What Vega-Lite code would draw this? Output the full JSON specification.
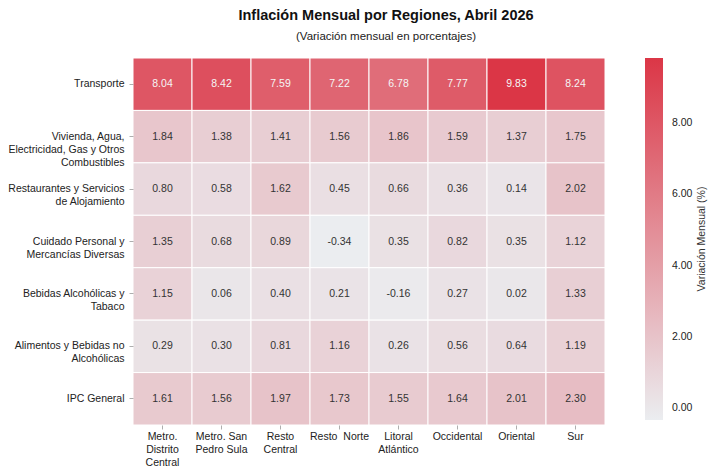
{
  "$schema": "https://vega.github.io/schema/vega-lite/v6.json",
  "autosize": "none",
  "width": 472,
  "height": 367,
  "padding": {"left": 133, "top": 58, "right": 110, "bottom": 43},
  "background": "white",
  "title": {
    "text": "Inflación Mensual por Regiones, Abril 2026",
    "subtitle": "(Variación mensual en porcentajes)",
    "font": "Liberation Sans",
    "fontSize": 14.5,
    "fontWeight": "bold",
    "color": "#111",
    "subtitleFont": "Liberation Sans",
    "subtitleFontSize": 11.5,
    "subtitleColor": "#222",
    "subtitlePadding": 8,
    "anchor": "middle",
    "dx": 17,
    "offset": 14
  },
  "config": {
    "view": {"stroke": null},
    "font": "Liberation Sans"
  },
  "data": {
    "values": [
      {"cat": "Transporte", "reg": "Metro.\nDistrito\nCentral", "v": 8.04},
      {"cat": "Transporte", "reg": "Metro. San\nPedro Sula", "v": 8.42},
      {"cat": "Transporte", "reg": "Resto\nCentral", "v": 7.59},
      {"cat": "Transporte", "reg": "Resto  Norte", "v": 7.22},
      {"cat": "Transporte", "reg": "Litoral\nAtlántico", "v": 6.78},
      {"cat": "Transporte", "reg": "Occidental", "v": 7.77},
      {"cat": "Transporte", "reg": "Oriental", "v": 9.83},
      {"cat": "Transporte", "reg": "Sur", "v": 8.24},
      {"cat": "Vivienda, Agua,\nElectricidad, Gas y Otros\nCombustibles", "reg": "Metro.\nDistrito\nCentral", "v": 1.84},
      {"cat": "Vivienda, Agua,\nElectricidad, Gas y Otros\nCombustibles", "reg": "Metro. San\nPedro Sula", "v": 1.38},
      {"cat": "Vivienda, Agua,\nElectricidad, Gas y Otros\nCombustibles", "reg": "Resto\nCentral", "v": 1.41},
      {"cat": "Vivienda, Agua,\nElectricidad, Gas y Otros\nCombustibles", "reg": "Resto  Norte", "v": 1.56},
      {"cat": "Vivienda, Agua,\nElectricidad, Gas y Otros\nCombustibles", "reg": "Litoral\nAtlántico", "v": 1.86},
      {"cat": "Vivienda, Agua,\nElectricidad, Gas y Otros\nCombustibles", "reg": "Occidental", "v": 1.59},
      {"cat": "Vivienda, Agua,\nElectricidad, Gas y Otros\nCombustibles", "reg": "Oriental", "v": 1.37},
      {"cat": "Vivienda, Agua,\nElectricidad, Gas y Otros\nCombustibles", "reg": "Sur", "v": 1.75},
      {"cat": "Restaurantes y Servicios\nde Alojamiento", "reg": "Metro.\nDistrito\nCentral", "v": 0.80},
      {"cat": "Restaurantes y Servicios\nde Alojamiento", "reg": "Metro. San\nPedro Sula", "v": 0.58},
      {"cat": "Restaurantes y Servicios\nde Alojamiento", "reg": "Resto\nCentral", "v": 1.62},
      {"cat": "Restaurantes y Servicios\nde Alojamiento", "reg": "Resto  Norte", "v": 0.45},
      {"cat": "Restaurantes y Servicios\nde Alojamiento", "reg": "Litoral\nAtlántico", "v": 0.66},
      {"cat": "Restaurantes y Servicios\nde Alojamiento", "reg": "Occidental", "v": 0.36},
      {"cat": "Restaurantes y Servicios\nde Alojamiento", "reg": "Oriental", "v": 0.14},
      {"cat": "Restaurantes y Servicios\nde Alojamiento", "reg": "Sur", "v": 2.02},
      {"cat": "Cuidado Personal y\nMercancías Diversas", "reg": "Metro.\nDistrito\nCentral", "v": 1.35},
      {"cat": "Cuidado Personal y\nMercancías Diversas", "reg": "Metro. San\nPedro Sula", "v": 0.68},
      {"cat": "Cuidado Personal y\nMercancías Diversas", "reg": "Resto\nCentral", "v": 0.89},
      {"cat": "Cuidado Personal y\nMercancías Diversas", "reg": "Resto  Norte", "v": -0.34},
      {"cat": "Cuidado Personal y\nMercancías Diversas", "reg": "Litoral\nAtlántico", "v": 0.35},
      {"cat": "Cuidado Personal y\nMercancías Diversas", "reg": "Occidental", "v": 0.82},
      {"cat": "Cuidado Personal y\nMercancías Diversas", "reg": "Oriental", "v": 0.35},
      {"cat": "Cuidado Personal y\nMercancías Diversas", "reg": "Sur", "v": 1.12},
      {"cat": "Bebidas Alcohólicas y\nTabaco", "reg": "Metro.\nDistrito\nCentral", "v": 1.15},
      {"cat": "Bebidas Alcohólicas y\nTabaco", "reg": "Metro. San\nPedro Sula", "v": 0.06},
      {"cat": "Bebidas Alcohólicas y\nTabaco", "reg": "Resto\nCentral", "v": 0.40},
      {"cat": "Bebidas Alcohólicas y\nTabaco", "reg": "Resto  Norte", "v": 0.21},
      {"cat": "Bebidas Alcohólicas y\nTabaco", "reg": "Litoral\nAtlántico", "v": -0.16},
      {"cat": "Bebidas Alcohólicas y\nTabaco", "reg": "Occidental", "v": 0.27},
      {"cat": "Bebidas Alcohólicas y\nTabaco", "reg": "Oriental", "v": 0.02},
      {"cat": "Bebidas Alcohólicas y\nTabaco", "reg": "Sur", "v": 1.33},
      {"cat": "Alimentos y Bebidas no\nAlcohólicas", "reg": "Metro.\nDistrito\nCentral", "v": 0.29},
      {"cat": "Alimentos y Bebidas no\nAlcohólicas", "reg": "Metro. San\nPedro Sula", "v": 0.30},
      {"cat": "Alimentos y Bebidas no\nAlcohólicas", "reg": "Resto\nCentral", "v": 0.81},
      {"cat": "Alimentos y Bebidas no\nAlcohólicas", "reg": "Resto  Norte", "v": 1.16},
      {"cat": "Alimentos y Bebidas no\nAlcohólicas", "reg": "Litoral\nAtlántico", "v": 0.26},
      {"cat": "Alimentos y Bebidas no\nAlcohólicas", "reg": "Occidental", "v": 0.56},
      {"cat": "Alimentos y Bebidas no\nAlcohólicas", "reg": "Oriental", "v": 0.64},
      {"cat": "Alimentos y Bebidas no\nAlcohólicas", "reg": "Sur", "v": 1.19},
      {"cat": "IPC General", "reg": "Metro.\nDistrito\nCentral", "v": 1.61},
      {"cat": "IPC General", "reg": "Metro. San\nPedro Sula", "v": 1.56},
      {"cat": "IPC General", "reg": "Resto\nCentral", "v": 1.97},
      {"cat": "IPC General", "reg": "Resto  Norte", "v": 1.73},
      {"cat": "IPC General", "reg": "Litoral\nAtlántico", "v": 1.55},
      {"cat": "IPC General", "reg": "Occidental", "v": 1.64},
      {"cat": "IPC General", "reg": "Oriental", "v": 2.01},
      {"cat": "IPC General", "reg": "Sur", "v": 2.30}
    ]
  },
  "encoding": {
    "x": {
      "field": "reg", "type": "nominal", "sort": null, "title": null,
      "axis": {
        "labelAngle": 0, "labelExpr": "split(replace(datum.label, '  ', '\u00a0 '), '\\n')",
        "labelFontSize": 10.5, "labelColor": "#222", "labelLineHeight": 13,
        "labelBaseline": "top", "labelPadding": 2,
        "domain": false, "tickSize": 4, "tickColor": "#999", "tickWidth": 0.8, "labelLimit": 0
      }
    },
    "y": {
      "field": "cat", "type": "nominal", "sort": null, "title": null,
      "axis": {
        "labelExpr": "split(datum.label, '\\n')",
        "labelFontSize": 10.5, "labelColor": "#222", "labelLineHeight": 13,
        "labelPadding": 5, "labelLimit": 0,
        "domain": false, "tickSize": 4, "tickColor": "#999", "tickWidth": 0.8
      }
    }
  },
  "layer": [
    {
      "mark": {"type": "rect", "stroke": "white", "strokeWidth": 1},
      "encoding": {
        "color": {
          "field": "v", "type": "quantitative",
          "scale": {"domain": [-0.34, 9.83], "range": ["#ebedf0", "#db3646"], "interpolate": "rgb"},
          "legend": {
            "title": "Variación Mensual (%)",
            "titleOrient": "right",
            "titleFontSize": 10.5,
            "titleFontWeight": "normal",
            "titleColor": "#333",
            "titleAnchor": "middle",
            "titleBaseline": "middle",
            "titlePadding": 10,
            "values": [0, 2, 4, 6, 8],
            "format": ".2f",
            "gradientLength": 362,
            "gradientThickness": 18,
            "gradientStrokeWidth": 0,
            "labelFontSize": 10.5,
            "labelColor": "#222",
            "labelOffset": 9,
            "offset": 40,
            "padding": 0,
            "encode": {"title": {"update": {"angle": {"value": -90}}}}
          }
        }
      }
    },
    {
      "mark": {"type": "text", "fontSize": 10.5, "text": {"expr": "replace(format(datum.v, '.2f'), '\u2212', '-')"}},
      "encoding": {
        "color": {"condition": {"test": "datum.v > 5", "value": "#f5f5f5"}, "value": "#333333"}
      }
    }
  ]
}
